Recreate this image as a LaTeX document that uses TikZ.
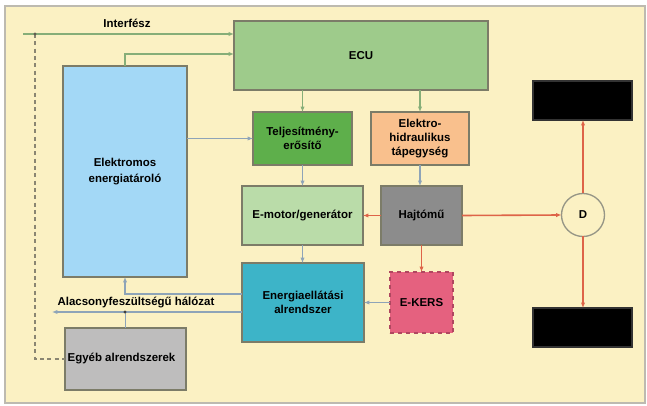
\documentclass[tikz,border=0pt]{standalone}
\usepackage{fontspec}
\setmainfont{Liberation Sans}
\usetikzlibrary{arrows.meta}
\definecolor{bgc}{HTML}{FBF1C3}
\definecolor{framec}{HTML}{BDBAB0}
\definecolor{bordc}{HTML}{7C7C68}
\definecolor{ecuc}{HTML}{9ECB8B}
\definecolor{teljc}{HTML}{5EAF4B}
\definecolor{ehc}{HTML}{F9C08D}
\definecolor{emc}{HTML}{BADCA9}
\definecolor{hjc}{HTML}{8C8C8C}
\definecolor{enc}{HTML}{3DB4C8}
\definecolor{ekc}{HTML}{E5617F}
\definecolor{ekb}{HTML}{B04760}
\definecolor{elc}{HTML}{A3D8F6}
\definecolor{egc}{HTML}{BEBDBD}
\definecolor{glin}{HTML}{86AE78}
\definecolor{blin}{HTML}{8EA4B8}
\definecolor{rlin}{HTML}{DE6448}
\definecolor{dlin}{HTML}{8A8672}
\begin{document}
\begin{tikzpicture}[x=0.75pt,y=-0.75pt,
  box/.style={draw=bordc,line width=1pt,inner sep=0pt,outer sep=0pt,align=center,
    font=\fontsize{8.6}{10.5}\selectfont\bfseries},
  sz/.style 2 args={minimum width=#1*0.75pt,minimum height=#2*0.75pt},
  lbl/.style={font=\fontsize{8.6}{10.5}\selectfont\bfseries,inner sep=0pt},
  conn/.style={line width=1.2pt,-{Latex[length=4pt,width=3.2pt]}},
  gl/.style={conn,draw=glin,color=glin},
  bl/.style={conn,draw=blin,color=blin},
  rl/.style={conn,draw=rlin,color=rlin},
]
\useasboundingbox (0,0) rectangle (647,406);
\fill[white] (0,0) rectangle (647,406);
\draw[framec,fill=bgc,line width=1.2pt] (5,6) rectangle (645,403);

% nodes
\node[box,sz={254}{69},fill=ecuc] (ecu) at (361,55.5) {ECU};
\node[box,sz={124}{211},fill=elc,font=\fontsize{8.6}{12}\selectfont\bfseries] (el) at (125,171.5) {Elektromos\\energiatároló};
\node[box,sz={99}{53},fill=teljc] (telj) at (302.5,138.5) {Teljesítmény-\\erősítő};
\node[box,sz={98}{53},fill=ehc] (eh) at (420,138.5) {Elektro-\\hidraulikus\\tápegység};
\node[box,sz={121}{59},fill=emc] (em) at (302.5,215.5) {E-motor/generátor};
\node[box,sz={81}{59},fill=hjc] (hj) at (421.5,215.5) {Hajtómű};
\node[box,sz={122}{79},fill=enc] (en) at (303,302.5) {Energiaellátási\\alrendszer};
\node[box,sz={63}{61},fill=ekc,draw=ekb,dashed,line width=1.3pt] (ek) at (421.5,302.5) {E-KERS};
\node[box,sz={121}{62},fill=egc] (eg) at (125.5,359) {\hspace*{-6pt}Egyéb alrendszerek};
\node[box,circle,minimum size=43*0.75pt,fill=bgc,draw=bordc!80] (d) at (583,215) {D};
\node[box,sz={99}{39},fill=black,draw=black!80] (bt) at (582.5,100.5) {};
\node[box,sz={99}{39},fill=black,draw=black!80] (bb) at (582.5,327.5) {};

% labels
\node[lbl] (iflbl) at (127,23.5) {Interfész};
\node[lbl] (lvlbl) at (136,303) {Alacsonyfeszültségű hálózat};

% coordinates
\coordinate (ifL) at (23,34);
\coordinate (dtop) at (35,34);
\coordinate (c54) at (125,54);
\coordinate (c294) at (125,294);
\coordinate (lvL) at (52,312);
\coordinate (lvJ) at (125,312);

% connectors
\draw[gl] (ifL) -- (ifL -| ecu.west);
\draw[dlin,line width=1.1pt,dashed,dash pattern=on 3pt off 2.5pt] (dtop) |- (eg.west);
\fill[dlin!70!black] (dtop) circle (1.6);
\draw[gl] (el.north) -- (c54) -- (c54 -| ecu.west);
\draw[bl] (el.east |- telj.west) -- (telj.west);
\draw[gl] (ecu.south -| telj.north) -- (telj.north);
\draw[gl] (ecu.south -| eh.north) -- (eh.north);
\draw[bl] (telj.south) -- (telj.south |- em.north);
\draw[bl] (eh.south) -- (eh.south |- hj.north);
\draw[rl] (hj.west) -- (em.east);
\draw[rl] (hj.east) -- (d.west);
\draw[rl] (d.north) -- (d.north |- bt.south);
\draw[rl] (d.south) -- (d.south |- bb.north);
\draw[rl] (hj.south) -- (ek.north);
\draw[bl] (ek.west) -- (ek.west -| en.east);
\draw[bl] (em.south) -- (em.south |- en.north);
\draw[bl] (c294 -| en.west) -- (c294) -- (el.south);
\draw[bl] (lvL -| en.west) -- (lvL);
\draw[blin,line width=1.2pt] (eg.north) -- (eg.north |- lvJ);
\fill[black!75] (lvJ) circle (1.6);
\end{tikzpicture}
\end{document}
